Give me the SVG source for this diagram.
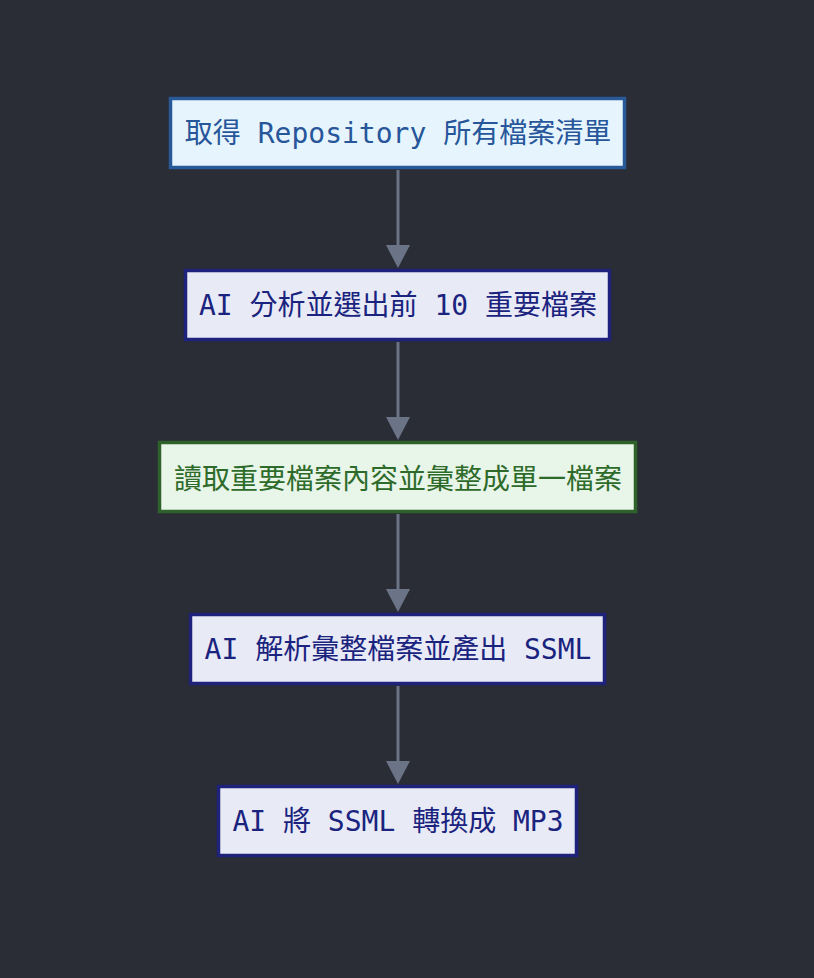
<svg xmlns="http://www.w3.org/2000/svg" width="814" height="978" viewBox="0 0 814 978">
<style>
.bg{fill:#2a2d35}
.n rect{stroke-width:3.5}
.blue rect{fill:#e6f4fd;stroke:#285a9a}
.blue text{fill:#27569a}
.navy rect{fill:#e8eaf6;stroke:#1f227a}
.navy text{fill:#1a237e}
.green rect{fill:#e8f5e9;stroke:#2f612b}
.green text{fill:#2e6b2a}
.mono{font-family:"DejaVu Sans Mono","Noto Sans CJK TC",monospace;font-size:28px}
.sans{font-family:"Noto Sans CJK TC","Noto Sans",sans-serif;font-size:28px}
.e line{stroke:#6b7386;stroke-width:3}
.e polygon{fill:#6b7386}
</style>
<rect class="bg" x="0" y="0" width="814" height="978"/>
<g id="edges" class="e">
<line x1="398" y1="170" x2="398" y2="250"/><polygon points="386,245 410,245 398,268"/>
<line x1="398" y1="342" x2="398" y2="422"/><polygon points="386,417 410,417 398,440"/>
<line x1="398" y1="514" x2="398" y2="594"/><polygon points="386,589 410,589 398,612"/>
<line x1="398" y1="686" x2="398" y2="766"/><polygon points="386,761 410,761 398,784"/>
</g>
<g id="n1" class="n blue"><rect x="170.5" y="98.5" width="454" height="69"/><text class="mono" x="398" y="133" text-anchor="middle" dominant-baseline="central">取得 Repository 所有檔案清單</text></g>
<g id="n2" class="n navy"><rect x="185.5" y="270.5" width="424" height="69"/><text class="mono" x="398" y="305" text-anchor="middle" dominant-baseline="central">AI 分析並選出前 10 重要檔案</text></g>
<g id="n3" class="n green"><rect x="159.5" y="442.5" width="476" height="69"/><text class="sans" x="398" y="477" text-anchor="middle" dominant-baseline="central">讀取重要檔案內容並彙整成單一檔案</text></g>
<g id="n4" class="n navy"><rect x="190.5" y="614.5" width="414" height="69"/><text class="mono" x="398" y="649" text-anchor="middle" dominant-baseline="central">AI 解析彙整檔案並產出 SSML</text></g>
<g id="n5" class="n navy"><rect x="218.5" y="786.5" width="358" height="69"/><text class="mono" x="398" y="821" text-anchor="middle" dominant-baseline="central">AI 將 SSML 轉換成 MP3</text></g>
</svg>
